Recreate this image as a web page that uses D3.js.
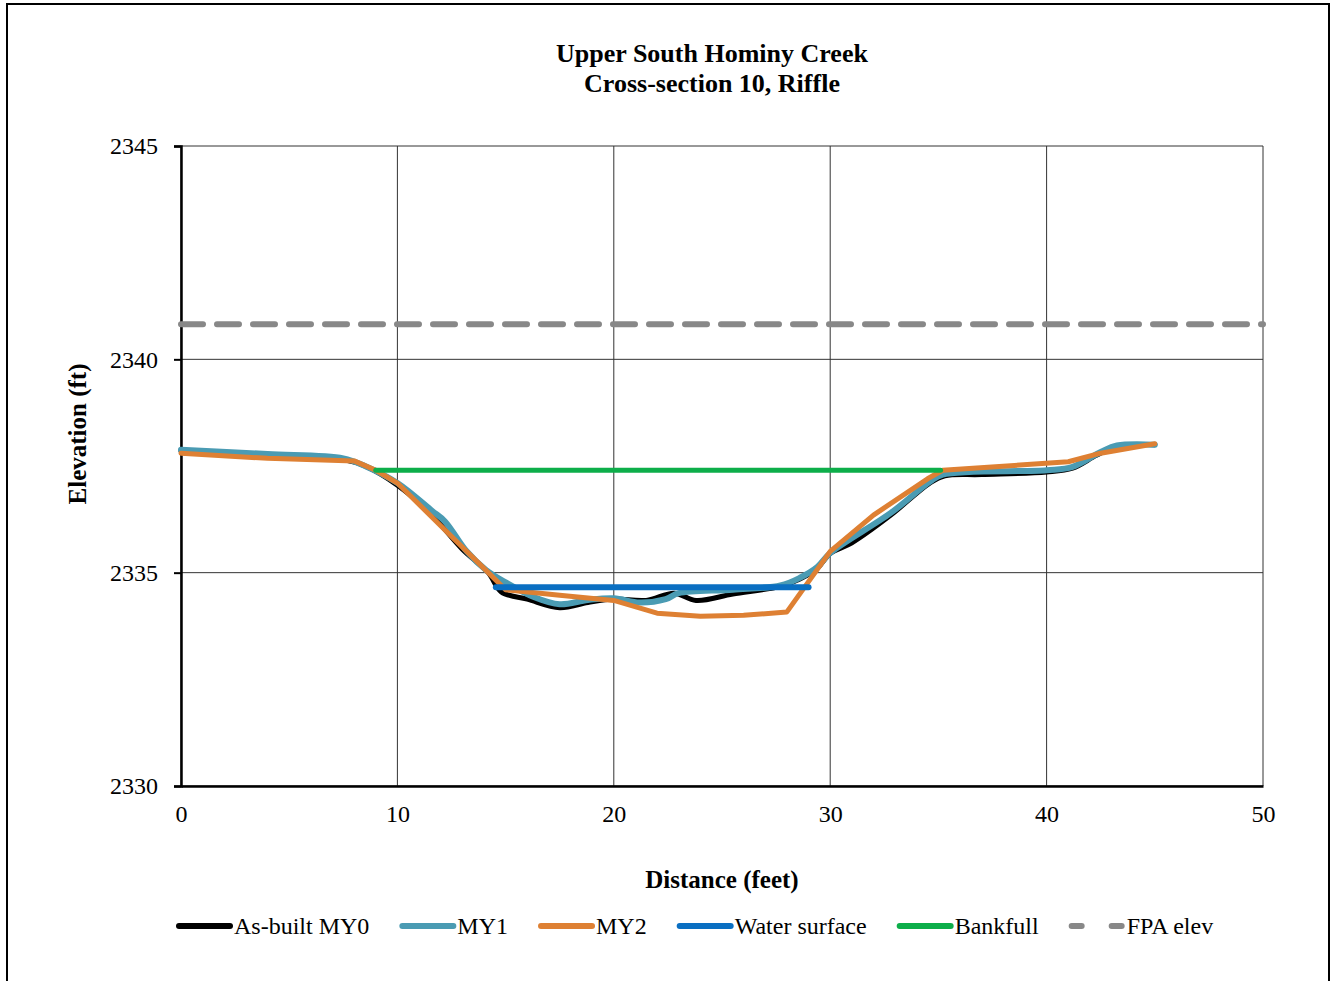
<!DOCTYPE html>
<html>
<head>
<meta charset="utf-8">
<script src="https://cdn.jsdelivr.net/npm/d3@7"></script>
<style>
  body { margin: 0; background: #fff; }
  svg text { font-family: 'Liberation Serif', 'Times New Roman', serif; fill: #000; }
</style>
</head>
<body>
<div id="grafica"></div>
<script>
// Datos de la sección transversal (distancia en pies, elevación en pies)
const asBuiltMY0 = [
  [0, 2337.85], [4, 2337.75], [7.5, 2337.65], [8.5, 2337.5], [10, 2337.05],
  [11.5, 2336.4], [13, 2335.55], [14.2, 2335.0], [14.8, 2334.55], [16, 2334.38],
  [17.5, 2334.18], [18.8, 2334.3], [20, 2334.38], [21.5, 2334.35], [22.8, 2334.52],
  [23.8, 2334.35], [25.5, 2334.5], [27.7, 2334.68], [28.6, 2334.85], [29.4, 2335.1],
  [30, 2335.45], [31, 2335.7], [32.8, 2336.35], [34.6, 2337.1], [35.3, 2337.27],
  [37, 2337.3], [40, 2337.36], [41.2, 2337.45], [42.3, 2337.75], [43.2, 2337.95],
  [45, 2338.0]
];
const my1 = [
  [0, 2337.88], [4, 2337.78], [7.5, 2337.68], [8.5, 2337.5], [10, 2337.1],
  [11.6, 2336.45], [12.2, 2336.2], [13.2, 2335.5], [14.1, 2335.06], [15.05, 2334.76],
  [16.3, 2334.43], [17.5, 2334.26], [18.8, 2334.36], [20, 2334.4], [21.2, 2334.3],
  [22.4, 2334.38], [23, 2334.52], [25.5, 2334.6], [27.7, 2334.7], [28.6, 2334.88],
  [29.4, 2335.13], [30, 2335.46], [32.8, 2336.4], [34.6, 2337.13], [35.2, 2337.3],
  [40, 2337.4], [41.2, 2337.48], [42.5, 2337.83], [43.25, 2337.98], [45, 2338.0]
];
const my2 = [
  [0, 2337.8], [4, 2337.68], [8, 2337.62], [9, 2337.4], [10, 2337.1],
  [12, 2336.1], [14, 2335.1], [15, 2334.6], [17.5, 2334.47], [20, 2334.35],
  [22, 2334.05], [24, 2333.98], [26, 2334.0], [28, 2334.08], [30, 2335.5],
  [32, 2336.35], [34.5, 2337.2], [35.2, 2337.4], [41, 2337.6], [42.5, 2337.8],
  [45, 2338.02]
];
const waterSurface = [[14.55, 2334.66], [29.0, 2334.66]];
const bankfull = [[9.0, 2337.4], [35.1, 2337.4]];
const fpaElev = [[0, 2340.82], [50, 2340.82]];

const xTicks = [0, 10, 20, 30, 40, 50];
const yTicks = [2330, 2335, 2340, 2345];

const titulo1 = "Upper South Hominy Creek";
const titulo2 = "Cross-section 10, Riffle";

const series = [
  { nombre: "As-built MY0", datos: asBuiltMY0, color: "#000000", ancho: 5, curva: d3.curveCatmullRom, dash: null },
  { nombre: "MY1", datos: my1, color: "#4A9BB3", ancho: 6, curva: d3.curveCatmullRom, dash: null },
  { nombre: "MY2", datos: my2, color: "#DE8033", ancho: 5, curva: d3.curveLinear, dash: null },
  { nombre: "Water surface", datos: waterSurface, color: "#0A6FC2", ancho: 6, curva: d3.curveLinear, dash: null },
  { nombre: "Bankfull", datos: bankfull, color: "#0DAE4A", ancho: 5, curva: d3.curveLinear, dash: null },
  { nombre: "FPA elev", datos: fpaElev, color: "#888888", ancho: 6, curva: d3.curveLinear, dash: "22,14" }
];

const W = 1332, H = 981;
const margin = { top: 146, right: 69, bottom: 195, left: 181 };
const width = W - margin.left - margin.right;
const height = H - margin.top - margin.bottom;
const fuente = "'Liberation Serif', 'Times New Roman', serif";

const svg = d3.select("#grafica").append("svg")
  .attr("width", W).attr("height", H);

// Marco exterior
svg.append("rect")
  .attr("x", 7).attr("y", 4).attr("width", 1322).attr("height", 1000)
  .attr("fill", "none").attr("stroke", "#000").attr("stroke-width", 2);

const x = d3.scaleLinear().domain([0, 50]).range([0, width]);
const y = d3.scaleLinear().domain([2330, 2345]).range([height, 0]);

const g = svg.append("g").attr("transform", "translate(" + margin.left + "," + margin.top + ")");

// Cuadrícula
g.selectAll(".gx").data(xTicks).enter().append("line")
  .attr("x1", d => x(d)).attr("x2", d => x(d))
  .attr("y1", 0).attr("y2", height)
  .attr("stroke", "#333").attr("stroke-width", 1);
g.selectAll(".gy").data(yTicks).enter().append("line")
  .attr("x1", 0).attr("x2", width)
  .attr("y1", d => y(d)).attr("y2", d => y(d))
  .attr("stroke", "#333").attr("stroke-width", 1);

// Ejes
const yAxis = d3.axisLeft(y).tickValues(yTicks).tickSize(7).tickPadding(16).tickFormat(d3.format("d"));
const xAxis = d3.axisBottom(x).tickValues(xTicks).tickSize(0).tickPadding(19).tickFormat(d3.format("d"));

const gy = g.append("g").call(yAxis).attr("font-family", fuente).attr("font-size", 24);
gy.select(".domain").attr("stroke-width", 2.5);
gy.selectAll(".tick line").attr("stroke-width", 2);
gy.selectAll("text").attr("dy", "0.32em");

const gx = g.append("g").attr("transform", "translate(0," + height + ")").call(xAxis)
  .attr("font-family", fuente).attr("font-size", 24);
gx.select(".domain").attr("stroke-width", 2.5);

// Títulos
svg.append("text").attr("x", 712).attr("y", 62).attr("text-anchor", "middle")
  .style("font-size", "26px").style("font-weight", "bold").text(titulo1);
svg.append("text").attr("x", 712).attr("y", 92).attr("text-anchor", "middle")
  .style("font-size", "26px").style("font-weight", "bold").text(titulo2);

svg.append("text").attr("x", margin.left + width / 2).attr("y", 888).attr("text-anchor", "middle")
  .style("font-size", "25px").style("font-weight", "bold").text("Distance (feet)");
svg.append("text").attr("transform", "translate(86,434) rotate(-90)").attr("text-anchor", "middle")
  .style("font-size", "25px").style("font-weight", "bold").text("Elevation (ft)");

// Líneas de las series
const linea = d3.line().x(d => x(d[0])).y(d => y(d[1]));
series.forEach(function(s) {
  g.append("path")
    .datum(s.datos)
    .attr("fill", "none")
    .attr("stroke", s.color)
    .attr("stroke-width", s.ancho)
    .attr("stroke-linejoin", "round")
    .attr("stroke-linecap", "round")
    .attr("stroke-dasharray", s.dash)
    .attr("d", linea.curve(s.curva));
});

// Leyenda
const leyenda = svg.append("g");
let posX = 176;
series.forEach(function(s) {
  leyenda.append("line")
    .attr("x1", posX + 3).attr("x2", posX + 54)
    .attr("y1", 926).attr("y2", 926)
    .attr("stroke", s.color).attr("stroke-width", 6)
    .attr("stroke-linecap", "round")
    .attr("stroke-dasharray", s.dash ? "10,30" : null);
  const t = leyenda.append("text")
    .attr("x", posX + 58).attr("y", 934)
    .style("font-size", "24px").text(s.nombre);
  posX += 58 + t.node().getComputedTextLength() + 30;
});
</script>
</body>
</html>
